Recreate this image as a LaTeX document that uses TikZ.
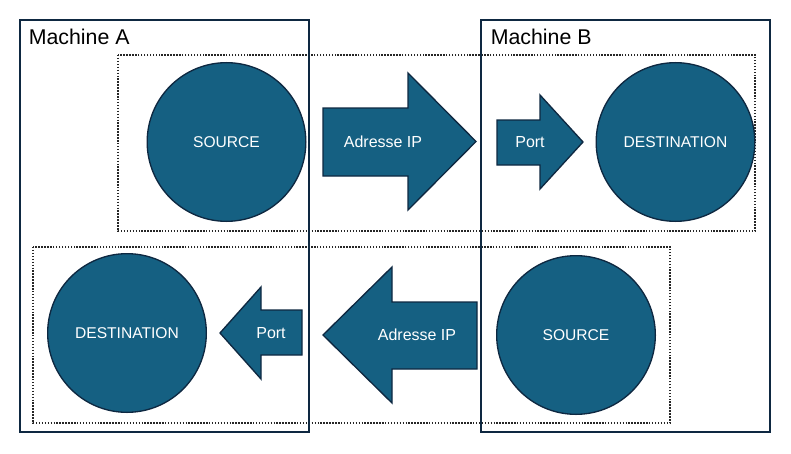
\documentclass[tikz,border=0pt]{standalone}
\usepackage{fontspec}
\setmainfont{Liberation Sans}
\usepackage{tikz}
\usetikzlibrary{positioning}
\definecolor{hostblue}{HTML}{156082}
\definecolor{navy}{HTML}{0E2841}

\begin{document}
\begin{tikzpicture}[x=0.75pt,y=-0.75pt,
		machine/.style={draw=navy,line width=1.5pt},
		zone/.style={draw=black!85,line width=1.1pt,dash pattern=on 1.1pt off 1.1pt},
		host/.style={circle,draw=navy,fill=hostblue,line width=1pt,minimum size=119pt,inner sep=0pt,text=white,font=\fontsize{11.7}{14}\selectfont},
		flow/.style={draw=navy,fill=hostblue,line width=1pt,line join=miter},
		flowtext/.style={text=white,inner sep=0pt,font=\fontsize{12}{14}\selectfont},
		machinetext/.style={anchor=base west,inner sep=0pt,font=\fontsize{16}{19}\selectfont}]
		\useasboundingbox (0,0) rectangle (791,453);
		
		% zones
		\draw[zone] (118,55) rectangle (755,231);
		\draw[zone] (33,247) rectangle (670,423);
		
		% machines
		\draw[machine] (20,20) rectangle (309,432);
		\draw[machine] (481,20) rectangle (770,432);
		\node[machinetext] (ma) at (28.5,45) {Machine A};
		\node[machinetext] (mb) at (490.5,45) {Machine B};
		
		% hosts
		\node[host] (srcA) at (226.5,142) {SOURCE};
		\node[host] (dstB) at (675.5,142) {DESTINATION};
		\node[host] (srcB) at (576,335) {SOURCE};
		\node[host] (dstA) at (127,333) {DESTINATION};
		
		% A -> B
		\draw[flow] (323,108) -- (408,108) -- (408,73) -- (476,141.5) -- (408,210) -- (408,176) -- (323,176) -- cycle;
		\node[flowtext] (ipAB) at (383,142) {Adresse IP};
		\draw[flow] (497,120) -- (540,120) -- (540,95) -- (583,142) -- (540,189) -- (540,165) -- (497,165) -- cycle;
		\node[flowtext] (portAB) at (530,142) {Port};
		
		% B -> A
		\draw[flow] (477,302) -- (392,302) -- (392,267) -- (323,335) -- (392,403) -- (392,369) -- (477,369) -- cycle;
		\node[flowtext] (ipBA) at (417,335) {Adresse IP};
		\draw[flow] (302,310) -- (261,310) -- (261,287) -- (220,333) -- (261,379) -- (261,355) -- (302,355) -- cycle;
		\node[flowtext] (portBA) at (271,333) {Port};
\end{tikzpicture}
\end{document}
